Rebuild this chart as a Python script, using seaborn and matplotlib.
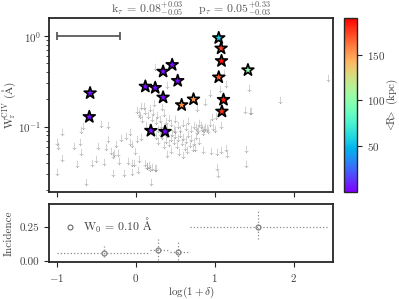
import matplotlib
matplotlib.use("Agg")
import matplotlib.pyplot as plt
import seaborn as sns
import numpy as np
from matplotlib.cm import ScalarMappable
from matplotlib.colors import Normalize
from matplotlib.lines import Line2D

# detections (stars): log(1+delta), W_r, <R> in kpc
star_x = [-0.58, -0.59, 0.12, 0.245, 0.345, 0.46, 0.53, 0.345, 0.58, 0.19, 0.37,
          0.73, 1.05, 1.08, 1.085, 1.05, 1.11, 1.09, 1.42]
star_w = [0.234, 0.128, 0.277, 0.268, 0.405, 0.48, 0.32, 0.21, 0.173, 0.090, 0.088,
          0.200, 0.95, 0.73, 0.53, 0.35, 0.198, 0.147, 0.42]
star_R = [3, 3, 3, 3, 3, 3, 3, 3, 155, 3, 3,
          152, 55, 175, 185, 168, 182, 178, 102]

# upper limits (grey arrows)
lim_x = [-0.94, -0.70, -0.67, -0.44, -0.35, -1.00, -0.99, -0.78, -0.71, -0.69,
         -0.94, -0.74, -1.00, -0.63, -0.56, -0.51, -0.41, -0.48, -0.38, -0.35,
         -0.32, -0.28, -0.29, -0.23, -0.25, -0.19, -0.12, -0.07, -0.07, -0.05,
         0.02, 0.07, -0.01, -0.22, -0.10, -0.05, -0.02, 0.04, -0.29, -0.15,
         -0.05, 0.03, 0.02, 0.04, 0.07, 0.14, 0.18, 0.24, 0.19, 0.24,
         0.40, 1.12, 1.14, 1.06, 0.94, 1.43, 0.87, 0.78, 1.38, 1.45,
         1.13, 1.02, 0.96, 0.94, 1.08, 0.75, 0.85, 0.95, 1.03, 1.08,
         1.14, 1.15, 1.40, 1.40, 1.03, 1.04, 2.43, 1.82, 1.46,
         0.10, 0.12, 0.15, 0.18, 0.20, 0.22, 0.25, 0.27, 0.30, 0.32,
         0.35, 0.38, 0.40, 0.42, 0.45, 0.48, 0.50, 0.53, 0.56, 0.60,
         0.63, 0.66, 0.70, 0.74, 0.78, 0.13, 0.17, 0.08, 0.05, 0.23,
         0.33, 0.28, 0.30, 0.33, 0.36, 0.38, 0.40, 0.42, 0.44, 0.46,
         0.48, 0.50, 0.52, 0.54, 0.56, 0.58, 0.60, 0.62, 0.64, 0.66,
         0.68, 0.70, 0.72, 0.74, 0.76, 0.35, 0.45, 0.55, 0.65, 0.40,
         0.60, 0.28, 0.25, 0.22, 0.80, 0.50, 0.76, 0.79, 0.82, 0.84,
         0.86, 0.88, 0.90, 0.92, 0.80, 0.98, 1.00, 0.85, 0.11, 0.14,
         0.17, 0.20, 0.25]
lim_w = [0.0874, 0.091, 0.101, 0.107, 0.103, 0.0672, 0.0608, 0.0618, 0.0684, 0.0527,
         0.0449, 0.0382, 0.0315, 0.0247, 0.0399, 0.0434, 0.0405, 0.0608, 0.0588, 0.0732,
         0.0535, 0.0514, 0.0492, 0.0514, 0.0650, 0.0751, 0.0796, 0.0874, 0.0672, 0.0650,
         0.0732, 0.0771, 0.0535, 0.0416, 0.0416, 0.0399, 0.0392, 0.0434, 0.0310, 0.0310,
         0.0315, 0.0331, 0.154, 0.142, 0.170, 0.0366, 0.0352, 0.0352, 0.0247, 0.460,
         0.290, 0.395, 0.297, 0.260, 0.234, 0.266, 0.185, 0.160, 0.154, 0.147,
         0.142, 0.132, 0.128, 0.110, 0.103, 0.0583, 0.0549, 0.0535, 0.0522, 0.0545,
         0.0583, 0.0501, 0.0559, 0.0389, 0.0354, 0.0302, 0.343, 0.195, 0.150,
         0.170, 0.150, 0.135, 0.160, 0.125, 0.145, 0.115, 0.135, 0.120, 0.105,
         0.140, 0.115, 0.100, 0.125, 0.110, 0.095, 0.120, 0.105, 0.095, 0.110,
         0.100, 0.115, 0.095, 0.105, 0.090, 0.105, 0.098, 0.120, 0.135, 0.180,
         0.165, 0.095, 0.085, 0.078, 0.090, 0.072, 0.082, 0.066, 0.075, 0.086,
         0.070, 0.080, 0.062, 0.074, 0.083, 0.068, 0.077, 0.060, 0.072, 0.082,
         0.065, 0.075, 0.058, 0.068, 0.078, 0.062, 0.055, 0.052, 0.055, 0.050,
         0.048, 0.070, 0.078, 0.088, 0.070, 0.092, 0.100, 0.095, 0.105, 0.097,
         0.093, 0.100, 0.096, 0.092, 0.110, 0.098, 0.094, 0.088, 0.040, 0.037,
         0.038, 0.036, 0.035]

# typical error bar shown in the corner
bar_x, bar_xerr, bar_w = -0.6, 0.4, 1.0

# incidence panel
inc_x = [-0.40, 0.28, 0.54, 1.55]
inc_y = [0.060, 0.078, 0.066, 0.252]
inc_xlo = [-1.00, 0.18, 0.43, 0.68]
inc_xhi = [0.18, 0.43, 0.68, 2.43]
inc_ylo = [0.033, 0.070, 0.060, 0.090]
inc_yhi = [0.052, 0.080, 0.076, 0.116]

sns.set_style("ticks")
plt.rcParams["font.family"] = ["cmr10", "DejaVu Serif"]
plt.rcParams["mathtext.fontset"] = "cm"
plt.rcParams["axes.formatter.use_mathtext"] = True
plt.rcParams["font.size"] = 8
plt.rcParams["axes.linewidth"] = 1.3
plt.rcParams["axes.edgecolor"] = "0.15"
plt.rcParams["xtick.color"] = "0.15"
plt.rcParams["ytick.color"] = "0.15"
plt.rcParams["xtick.labelcolor"] = "0.25"
plt.rcParams["ytick.labelcolor"] = "0.25"

fig = plt.figure(figsize=(3.99, 2.99), dpi=100)
ax = fig.add_axes([0.123, 0.358, 0.712, 0.582])
ax2 = fig.add_axes([0.123, 0.124, 0.712, 0.194])
cax = fig.add_axes([0.862, 0.358, 0.033, 0.582])

# top panel
sns.scatterplot(x=lim_x, y=lim_w, marker=r"$\downarrow$", color="0.5",
                s=30, linewidth=0, ax=ax, zorder=1)
sns.scatterplot(x=star_x, y=star_w, hue=star_R, palette="rainbow", hue_norm=(0, 190),
                marker="*", s=80, edgecolor="k", linewidth=1.2, legend=False,
                ax=ax, zorder=3)
ax.errorbar([bar_x], [bar_w], xerr=[bar_xerr], fmt="none", ecolor="0.3",
            elinewidth=1.2, capsize=3, capthick=1.2)
ax.set_yscale("log")
ax.set_xlim(-1.1, 2.5)
ax.set_ylim(0.019, 1.58)
ax.set_xticks([-1, 0, 1, 2])
ax.tick_params(axis="x", labelbottom=False)
ax.tick_params(axis="y", pad=2)
ax.set_xlabel("")
ax.set_ylabel(r"W$_{\rm r}^{\rm CIV}$ ($\mathrm{Å}$)", color="0.25", fontsize=8)
ax.yaxis.set_label_coords(-0.108, 0.5)
ax.set_title(r"k$_\tau$ = 0.08$^{+0.03}_{-0.05}$    p$_\tau$ = 0.05$^{+0.33}_{-0.03}$",
             color="0.35", fontsize=8.5, pad=3)

sm = ScalarMappable(norm=Normalize(0, 190), cmap="rainbow")
cb = fig.colorbar(sm, cax=cax, ticks=[50, 100, 150])
cb.set_label(r"$<\!\!\!$R$\!\!\!>$ (kpc)", color="0.25", labelpad=0)
cb.outline.set_linewidth(1.0)

# bottom panel
xerr = [np.array(inc_x) - np.array(inc_xlo), np.array(inc_xhi) - np.array(inc_x)]
yerr = [inc_ylo, inc_yhi]
eb = ax2.errorbar(inc_x, inc_y, xerr=xerr, yerr=yerr, fmt="o", mfc="none", mec="0.5",
                  ms=3.5, mew=0.9, ecolor="0.55", elinewidth=0.9)
for lc in eb[2]:
    lc.set_linestyle(":")
ax2.set_xlim(-1.1, 2.5)
ax2.set_ylim(-0.008, 0.42)
ax2.set_xticks([-1, 0, 1, 2])
ax2.set_yticks([0.0, 0.25])
ax2.set_yticklabels(["0.00", "0.25"])
ax2.set_xlabel(r"$\log(1+\delta)$", color="0.25", labelpad=1)
ax2.set_ylabel("Incidence", color="0.25")
h = Line2D([], [], marker="o", ls="none", mfc="none", mec="0.4", ms=3.5, mew=0.8)
ax2.legend([h], [r"W$_0$ = 0.10 $\mathrm{Å}$"], loc="upper left", frameon=False,
           fontsize=8.5, handlelength=1.5, handletextpad=0.4, borderaxespad=0.6,
           labelcolor="0.25")

fig.savefig("out.png", dpi=100)
